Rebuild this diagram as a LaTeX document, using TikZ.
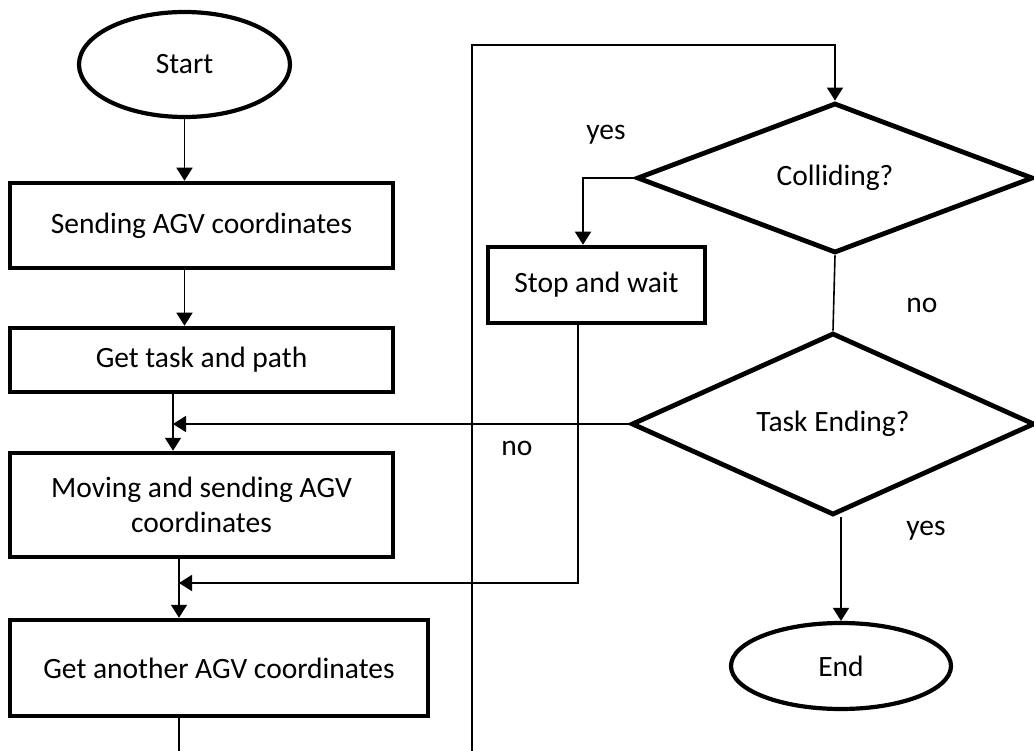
\documentclass[tikz,border=0pt]{standalone}
\usepackage{fontspec}
\setmainfont{Carlito}
\usetikzlibrary{shapes.geometric,arrows.meta,calc}
\begin{document}
\begin{tikzpicture}[x=1pt,y=-1pt,
  every node/.style={font=\fontsize{29.5}{35}\selectfont, text=black},
  procbox/.style={draw, line width=4.5pt, rectangle, inner sep=0pt, align=center},
  termbox/.style={draw, line width=4.2pt, ellipse, inner sep=0pt},
  decbox/.style={draw, line width=4.8pt, diamond, inner sep=0pt},
  conn/.style={line width=1.6pt},
  arr/.style={conn, -{Triangle[length=13pt,width=16pt]}},
  lbl/.style={inner sep=0pt}
]
\useasboundingbox (0,0) rectangle (1034,751);

% terminals
\node[termbox, minimum width=211, minimum height=105] (start) at (184.5,64.5) {Start};
\node[termbox, minimum width=220, minimum height=86] (end) at (841,666) {End};

% process boxes
\node[procbox, minimum width=383, minimum height=85] (b1) at (201.5,225.5) {Sending AGV coordinates};
\node[procbox, minimum width=383, minimum height=64] (b2) at (201.5,360) {Get task and path};
\node[procbox, minimum width=383, minimum height=104] (b3) at (201.5,505) {Moving and sending AGV\\coordinates};
\node[procbox, minimum width=418, minimum height=96] (b4) at (219,668) {Get another AGV coordinates};
\node[procbox, minimum width=217, minimum height=76] (stop) at (596.5,285) {Stop and wait};

% decisions
\node[decbox, minimum width=396, minimum height=150, aspect=2.64] (coll) at (835,178) {Colliding?};
\node[decbox, minimum width=403, minimum height=182, aspect=2.21] (task) at (833,424) {Task Ending?};

% helper coordinates
\coordinate (j1) at (173,424);
\coordinate (j2) at (179,583);
\coordinate (j2r) at (578,583);
\coordinate (c1) at (583,178);
\coordinate (lb) at (472,751);
\coordinate (lt) at (472,45);
\coordinate (xb) at (184.5,0);

% connectors
\draw[arr] (start.south) -- (start.south |- b1.north);
\draw[arr] (b1.south -| xb) -- (b2.north -| xb);
\draw[arr] (b2.south -| j1) -- (b3.north -| j1);
\draw[arr] (task.west) -- (j1);
\draw[arr] (b3.south -| j2) -- (b4.north -| j2);
\draw[arr] (stop.south -| j2r) -- (j2r) -- (j2);
\draw[conn] (b4.south -| j2) -- (j2 |- lb);
\draw[arr] (lb) -- (lt) -| (coll.north);
\draw[arr] (coll.west) -- (c1) -- (c1 |- stop.north);
\draw[conn] (coll.south) -- (task.north);
\draw[arr] (task.south -| end.north) -- (end.north);

% labels
\node[lbl] (l1) at (606,135) {yes};
\node[lbl] (l2) at (922,305) {no};
\node[lbl] (l3) at (517,448) {no};
\node[lbl] (l4) at (926,531) {yes};
\end{tikzpicture}
\end{document}
